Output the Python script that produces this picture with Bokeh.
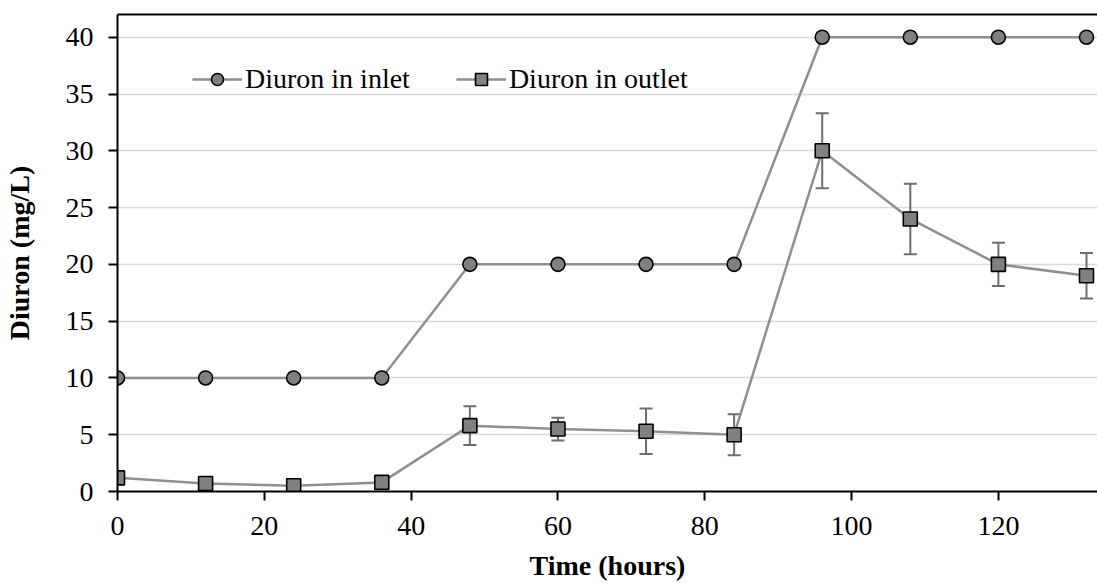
from bokeh.plotting import figure
from bokeh.models import ColumnDataSource, Whisker, TeeHead, Legend, LegendItem, LinearAxis, FixedTicker, Range1d
from bokeh.embed import file_html
from bokeh.resources import INLINE

time_h = [0, 12, 24, 36, 48, 60, 72, 84, 96, 108, 120, 132]
inlet = [10, 10, 10, 10, 20, 20, 20, 20, 40, 40, 40, 40]
outlet = [1.2, 0.7, 0.5, 0.8, 5.8, 5.5, 5.3, 5.0, 30, 24, 20, 19]
outlet_err = [0, 0, 0, 0, 1.7, 1.0, 2.0, 1.8, 3.3, 3.1, 1.9, 2.0]

x_ticks = [0, 20, 40, 60, 80, 100, 120]
y_ticks = [0, 5, 10, 15, 20, 25, 30, 35, 40]

FONT = "Liberation Serif"
LINE = "#8f8f8f"
FILL = "#808080"

src = ColumnDataSource(dict(
    t=time_h, inlet=inlet, outlet=outlet,
    upper=[o + e for o, e in zip(outlet, outlet_err)],
    lower=[o - e for o, e in zip(outlet, outlet_err)],
))

p = figure(width=1097, height=585, output_backend="svg", toolbar_location=None,
           x_range=Range1d(0, 133.5), y_range=Range1d(0, 42),
           min_border_left=117, min_border_right=0, min_border_top=14, min_border_bottom=94)
p.outline_line_color = None
p.background_fill_color = "white"

for ax in (p.xaxis[0], p.yaxis[0]):
    ax.axis_line_color = "black"
    ax.axis_line_width = 2
    ax.major_tick_line_color = "black"
    ax.major_tick_line_width = 2
    ax.major_tick_out = 9
    ax.major_tick_in = 0
    ax.minor_tick_line_color = None
    ax.major_label_text_font = FONT
    ax.major_label_text_font_size = "28px"
    ax.major_label_text_color = "black"
    ax.axis_label_text_font = FONT
    ax.axis_label_text_font_size = "28px"
    ax.axis_label_text_font_style = "bold"
    ax.axis_label_text_color = "black"

p.xaxis.ticker = FixedTicker(ticks=x_ticks)
p.yaxis.ticker = FixedTicker(ticks=y_ticks)
p.xaxis.axis_label = "Time (hours)"
p.yaxis.axis_label = "Diuron (mg/L)"
p.xaxis.major_label_standoff = 16
p.yaxis.major_label_standoff = 15
p.xaxis.axis_label_standoff = 12
p.yaxis.axis_label_standoff = 28

top = LinearAxis(ticker=FixedTicker(ticks=[]), axis_line_color="black", axis_line_width=2,
                 major_tick_line_color=None, minor_tick_line_color=None,
                 major_label_text_font_size="0px")
p.add_layout(top, "above")

p.xgrid.grid_line_color = None
p.ygrid.grid_line_color = "#d9d9d9"
p.ygrid.grid_line_width = 1.5
p.ygrid.ticker = FixedTicker(ticks=y_ticks)

l1 = p.line("t", "inlet", source=src, line_color=LINE, line_width=2.5)
m1 = p.scatter("t", "inlet", source=src, marker="circle", size=14,
               fill_color=FILL, line_color="black", line_width=1.6)

wh = Whisker(base="t", upper="upper", lower="lower", source=src,
             line_color="#6e6e6e", line_width=2,
             upper_head=TeeHead(size=13, line_color="#6e6e6e", line_width=2),
             lower_head=TeeHead(size=13, line_color="#6e6e6e", line_width=2))
p.add_layout(wh)

l2 = p.line("t", "outlet", source=src, line_color=LINE, line_width=2.5)
m2 = p.scatter("t", "outlet", source=src, marker="square", size=14,
               fill_color=FILL, line_color="black", line_width=1.6)

legend = Legend(items=[LegendItem(label="Diuron in inlet", renderers=[l1, m1]),
                       LegendItem(label="Diuron in outlet", renderers=[l2, m2])],
                orientation="horizontal", location=(75, 396))
legend.label_text_font = FONT
legend.label_text_font_size = "28px"
legend.label_text_color = "black"
legend.glyph_width = 50
legend.glyph_height = 30
legend.spacing = 46
legend.padding = 0
legend.margin = 0
legend.label_standoff = 3
legend.border_line_color = None
legend.background_fill_alpha = 0
p.add_layout(legend, "center")

open("out.html", "w").write(file_html(p, INLINE))
